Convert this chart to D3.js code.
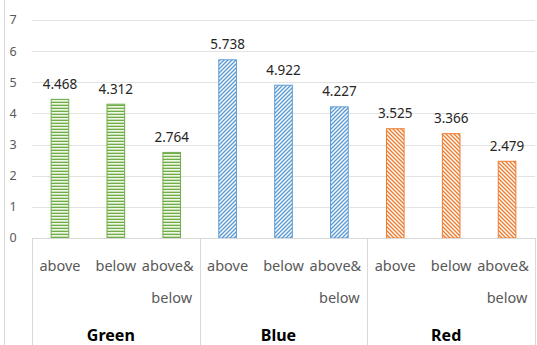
<!DOCTYPE html>
<html><head><meta charset="utf-8">
<script src="https://cdn.jsdelivr.net/npm/d3@7"></script>
<style>body{margin:0;background:#fff}svg{display:block}</style>
</head><body>
<svg id="c" width="537" height="345"></svg>
<script>
const groups = ["Green", "Blue", "Red"];
const subs = ["above", "below", "above&\nbelow"];
const greenValues = [4.468, 4.312, 2.764];
const blueValues = [5.738, 4.922, 4.227];
const redValues = [3.525, 3.366, 2.479];
const yTicks = [0, 1, 2, 3, 4, 5, 6, 7];

(function() {
const seriesVals = [greenValues, blueValues, redValues];
const colors = ["#70ad47", "#5b9bd5", "#ed7d31"];
const data = [];
groups.forEach((g, gi) => subs.forEach((s, si) => data.push({g, gi, s, si, key: g + "|" + si, v: seriesVals[gi][si]})));

const svg = d3.select("#c");
const pLeft = 32, pRight = 535, pTop = 20, base = 238;
const y = d3.scaleLinear().domain([0, 7]).range([base, pTop]);
const xg = d3.scaleBand().domain(groups).range([pLeft, pRight]);
const x = d3.scaleBand().domain(data.map(d => d.key)).range([pLeft, pRight]).paddingInner(2/3).paddingOuter(1/3);

// patterns
const defs = svg.append("defs");
const pg = defs.append("pattern").attr("id", "p0").attr("patternUnits", "userSpaceOnUse").attr("width", 4).attr("height", 3);
pg.append("rect").attr("width", 4).attr("height", 3).attr("fill", "#c6e0b4");
pg.append("rect").attr("y", 0).attr("width", 4).attr("height", 1).attr("fill", "#70ad47");
pg.append("rect").attr("y", 1).attr("width", 4).attr("height", 1).attr("fill", "#eef6e8");
const pb = defs.append("pattern").attr("id", "p1").attr("patternUnits", "userSpaceOnUse").attr("width", 4).attr("height", 4);
pb.append("rect").attr("width", 4).attr("height", 4).attr("fill", "#fff");
pb.append("path").attr("d", "M-1,1 L1,-1 M0,4 L4,0 M3,5 L5,3").attr("stroke", "#5b9bd5").attr("stroke-width", 1.4);
const pr = defs.append("pattern").attr("id", "p2").attr("patternUnits", "userSpaceOnUse").attr("width", 4).attr("height", 4);
pr.append("rect").attr("width", 4).attr("height", 4).attr("fill", "#fff");
pr.append("path").attr("d", "M-1,3 L1,5 M0,0 L4,4 M3,-1 L5,1").attr("stroke", "#ed7d31").attr("stroke-width", 1.4);

// left border
svg.append("line").attr("x1", 4.5).attr("x2", 4.5).attr("y1", 0).attr("y2", 345).attr("stroke", "#d9d9d9");

// gridlines
svg.append("g").selectAll("line").data(yTicks.filter(t => t > 0)).join("line")
  .attr("x1", pLeft).attr("x2", pRight).attr("y1", d => Math.round(y(d)) + 0.5).attr("y2", d => Math.round(y(d)) + 0.5)
  .attr("stroke", "#e3e3e3").attr("stroke-width", 1);

// y tick labels
svg.append("g").selectAll("text").data(yTicks).join("text")
  .attr("x", 13).attr("y", d => y(d)).attr("dy", "0.35em").attr("text-anchor", "middle")
  .attr("font-family", "Noto Sans, sans-serif").attr("font-size", 12.5).attr("fill", "#595959").text(d => d);

// bars
svg.append("g").selectAll("rect").data(data).join("rect")
  .attr("x", d => x(d.key) + 0.5).attr("width", x.bandwidth() - 1)
  .attr("y", d => y(d.v) + 0.5).attr("height", d => base - y(d.v) - 0.5)
  .attr("fill", d => `url(#p${d.gi})`).attr("stroke", d => colors[d.gi]).attr("stroke-width", 1);

// value labels
svg.append("g").selectAll("text").data(data).join("text")
  .attr("x", d => x(d.key) + x.bandwidth() / 2).attr("y", d => y(d.v) - 10)
  .attr("text-anchor", "middle").attr("font-family", "Noto Sans, sans-serif").attr("font-size", 13.5)
  .attr("fill", "#262626").text(d => d.v.toFixed(3));

// category axis
svg.append("line").attr("x1", pLeft).attr("x2", pRight).attr("y1", base + 0.5).attr("y2", base + 0.5).attr("stroke", "#d9d9d9");
svg.append("g").selectAll("line").data([...groups.map(g => xg(g)), pRight]).join("line")
  .attr("x1", d => Math.round(d) + 0.5).attr("x2", d => Math.round(d) + 0.5).attr("y1", base).attr("y2", 345)
  .attr("stroke", "#d9d9d9");

const cat = svg.append("g").selectAll("text").data(data).join("text")
  .attr("font-family", "Noto Sans, sans-serif").attr("font-size", 14.5).attr("fill", "#595959")
  .attr("text-anchor", "middle");
cat.each(function(d) {
  const lines = d.s.split("\n");
  const cx = x(d.key) + x.bandwidth() / 2;
  lines.forEach((t, i) => {
    d3.select(this).append("tspan").attr("x", cx + (lines.length > 1 && i === 0 ? -4 : 0))
      .attr("y", 271 + i * 32).text(t);
  });
});

svg.append("g").selectAll("text").data(groups).join("text")
  .attr("x", d => xg(d) + xg.bandwidth() / 2 - 5).attr("y", 341)
  .attr("text-anchor", "middle").attr("font-family", "Noto Sans, sans-serif").attr("font-size", 16)
  .attr("font-weight", "bold").attr("fill", "#000").text(d => d);
})();
</script>
</body></html>
